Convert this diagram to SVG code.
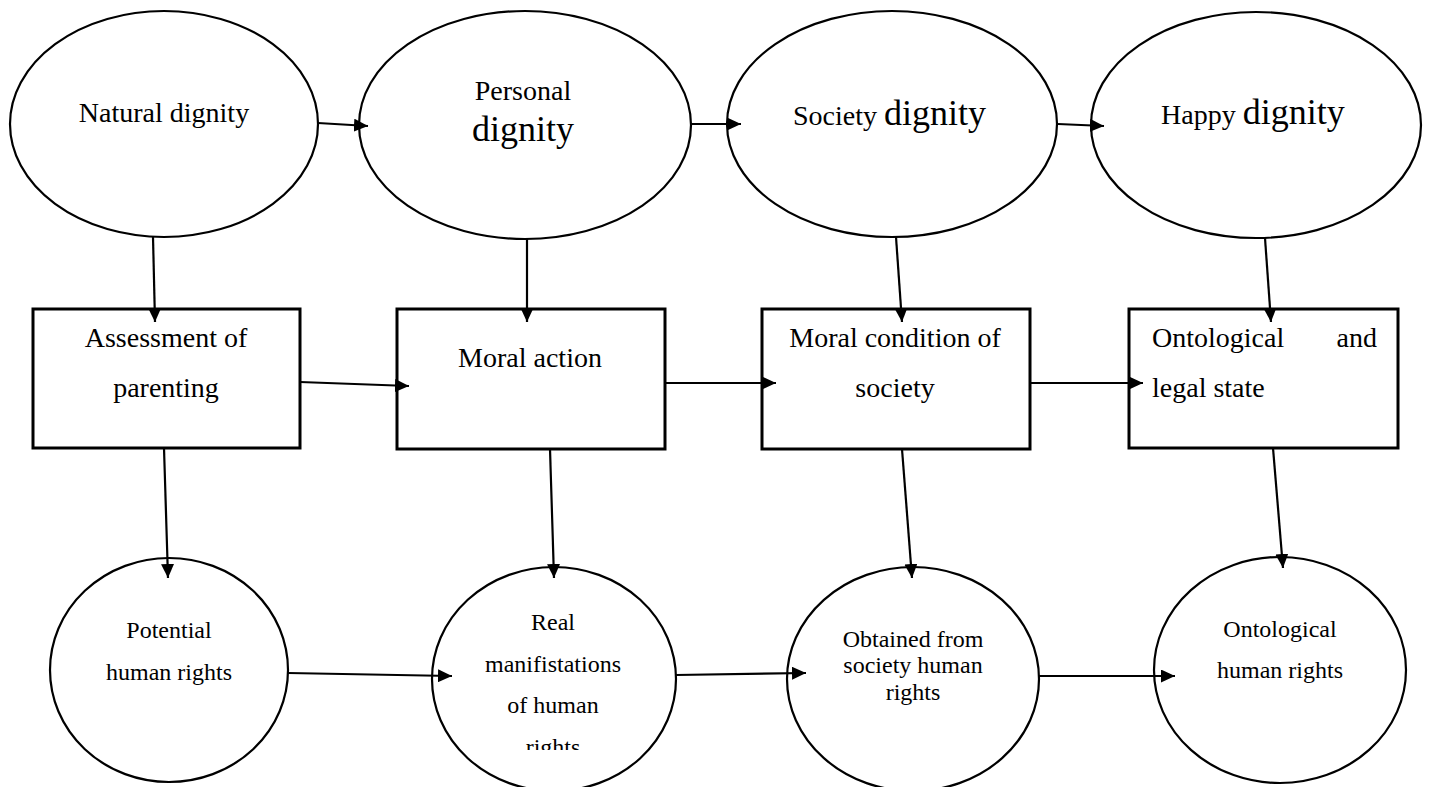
<svg xmlns="http://www.w3.org/2000/svg" width="1432" height="787" viewBox="0 0 1432 787">
<style>
  .node { fill: #ffffff; stroke: #000000; stroke-width: 2.2; }
  .box { fill: #ffffff; stroke: #000000; stroke-width: 3; }
  .edge { fill: none; stroke: #000000; stroke-width: 2.2; marker-end: url(#arrow); }
  text { font-family: "Liberation Serif", "Times New Roman", serif; fill: #000000; }
  .t28 { font-size: 28px; }
  .t36 { font-size: 36px; }
  .t24 { font-size: 24px; }
  .mid { text-anchor: middle; }
</style>
<defs>
  <marker id="arrow" markerUnits="userSpaceOnUse" markerWidth="14" markerHeight="13" refX="14" refY="6.5" orient="auto">
    <path d="M0,0 L14,6.5 L0,13 z" fill="#000000"/>
  </marker>
  <clipPath id="clipReal">
    <rect x="400" y="560" width="300" height="190"/>
  </clipPath>
</defs>
<rect width="1432" height="787" fill="#ffffff"/>

<g id="n-natural">
  <ellipse class="node" cx="164" cy="124" rx="154" ry="113"/>
  <text class="t28 mid" x="164" y="122">Natural dignity</text>
</g>
<g id="n-personal">
  <ellipse class="node" cx="525" cy="125" rx="166" ry="114"/>
  <text class="t28 mid" x="523" y="100">Personal</text>
  <text class="t36 mid" x="523" y="141">dignity</text>
</g>
<g id="n-society">
  <ellipse class="node" cx="892" cy="124" rx="165" ry="113"/>
  <text x="793" y="125"><tspan class="t28">Society </tspan><tspan class="t36">dignity</tspan></text>
</g>
<g id="n-happy">
  <ellipse class="node" cx="1256" cy="125" rx="165" ry="113"/>
  <text x="1161" y="124"><tspan class="t28">Happy </tspan><tspan class="t36">dignity</tspan></text>
</g>

<g id="n-assessment">
  <rect class="box" x="33" y="309" width="267" height="139"/>
  <text class="t28 mid" x="166" y="347">Assessment of</text>
  <text class="t28 mid" x="166" y="397">parenting</text>
</g>
<g id="n-moral-action">
  <rect class="box" x="397" y="309" width="268" height="140"/>
  <text class="t28 mid" x="530" y="367">Moral action</text>
</g>
<g id="n-moral-condition">
  <rect class="box" x="762" y="309" width="268" height="140"/>
  <text class="t28 mid" x="895" y="347">Moral condition of</text>
  <text class="t28 mid" x="895" y="397">society</text>
</g>
<g id="n-ontological-state">
  <rect class="box" x="1129" y="309" width="269" height="139"/>
  <text class="t28" x="1152" y="347">Ontological</text>
  <text class="t28" x="1377" y="347" text-anchor="end">and</text>
  <text class="t28" x="1152" y="397">legal state</text>
</g>

<g id="n-potential">
  <ellipse class="node" cx="169" cy="670" rx="119" ry="112"/>
  <text class="t24 mid" x="169" y="638">Potential</text>
  <text class="t24 mid" x="169" y="680">human rights</text>
</g>
<g id="n-real">
  <ellipse class="node" cx="554" cy="679" rx="122" ry="112"/>
  <g clip-path="url(#clipReal)">
    <text class="t24 mid" x="553" y="630">Real</text>
    <text class="t24 mid" x="553" y="672">manifistations</text>
    <text class="t24 mid" x="553" y="713">of human</text>
    <text class="t24 mid" x="553" y="755">rights</text>
  </g>
</g>
<g id="n-obtained">
  <ellipse class="node" cx="913" cy="679" rx="126" ry="112"/>
  <text class="t24 mid" x="913" y="647">Obtained from</text>
  <text class="t24 mid" x="913" y="673">society human</text>
  <text class="t24 mid" x="913" y="700">rights</text>
</g>
<g id="n-ontological-rights">
  <ellipse class="node" cx="1280" cy="670" rx="126" ry="113"/>
  <text class="t24 mid" x="1280" y="637">Ontological</text>
  <text class="t24 mid" x="1280" y="678">human rights</text>
</g>

<g id="connectors">
  <line class="edge" x1="318" y1="123" x2="368" y2="126"/>
  <line class="edge" x1="690" y1="124" x2="741" y2="124"/>
  <line class="edge" x1="1058" y1="124" x2="1104" y2="126"/>

  <line class="edge" x1="153" y1="237" x2="155" y2="322"/>
  <line class="edge" x1="527" y1="239" x2="527" y2="322"/>
  <line class="edge" x1="896" y1="237" x2="902" y2="322"/>
  <line class="edge" x1="1265" y1="238" x2="1271" y2="322"/>

  <line class="edge" x1="300" y1="382" x2="409" y2="386"/>
  <line class="edge" x1="665" y1="383" x2="776" y2="383"/>
  <line class="edge" x1="1030" y1="383" x2="1143" y2="383"/>

  <line class="edge" x1="164" y1="448" x2="168" y2="578"/>
  <line class="edge" x1="550" y1="449" x2="554" y2="578"/>
  <line class="edge" x1="902" y1="449" x2="912" y2="578"/>
  <line class="edge" x1="1273" y1="448" x2="1283" y2="568"/>

  <line class="edge" x1="288" y1="673" x2="452" y2="676"/>
  <line class="edge" x1="676" y1="675" x2="806" y2="673"/>
  <line class="edge" x1="1039" y1="676" x2="1175" y2="676"/>
</g>
</svg>
